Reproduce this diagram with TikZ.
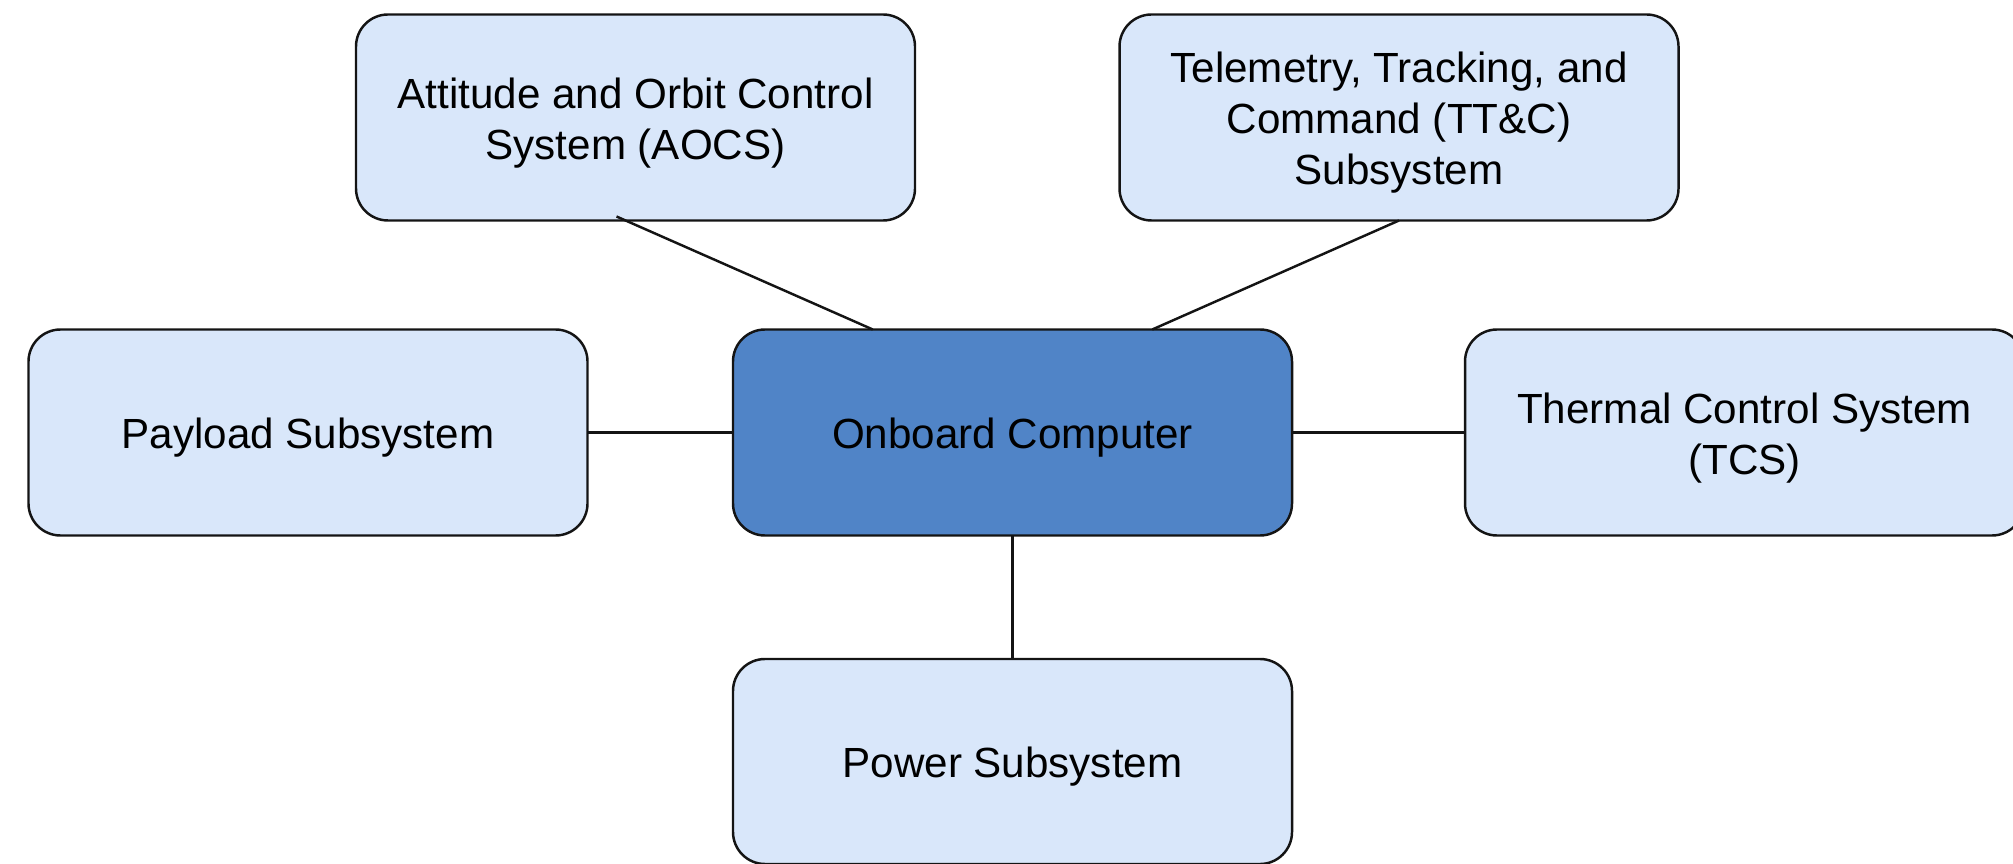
\documentclass[tikz,border=0pt]{standalone}
\usepackage{fontspec}
\setmainfont{Liberation Sans}
\usetikzlibrary{calc}

\definecolor{subfill}{RGB}{217,231,250}
\definecolor{corefill}{RGB}{80,132,199}
\definecolor{edgeline}{RGB}{20,20,20}

% a tall strut on the first line sets the text slightly below centre
\newcommand{\firstline}{\rule{0pt}{11.7pt}}

\tikzset{
  block/.style={draw=edgeline, line width=0.7pt, rounded corners=0.32cm,
    fill=subfill, minimum width=5.59cm, minimum height=2.06cm,
    align=center, inner sep=0pt, outer sep=0pt,
    font=\fontsize{12pt}{14.6pt}\selectfont},
  coreblock/.style={block, fill=corefill},
  link/.style={draw=edgeline, line width=0.7pt}
}

\begin{document}
\begin{tikzpicture}
  \useasboundingbox (0,0) rectangle (20.13,-8.64);

  % subsystems around the onboard computer
  \node[block] (aocs) at (6.355,-1.175)
    {\firstline Attitude and Orbit Control\\System (AOCS)};
  \node[block] (ttc) at (13.99,-1.175)
    {\firstline Telemetry, Tracking, and\\Command (TT\&C)\\Subsystem};
  \node[block] (payload) at (3.08,-4.325) {\firstline Payload Subsystem};
  \node[coreblock] (obc) at (10.125,-4.325) {\firstline Onboard Computer};
  \node[block] (tcs) at (17.445,-4.325)
    {\firstline Thermal Control System\\(TCS)};
  \node[block, minimum height=2.05cm] (power) at (10.125,-7.615)
    {\firstline Power Subsystem};

  % attachment points on the onboard computer's top edge
  \coordinate (aocsTap) at ($(aocs.south)+(-0.19,0.04)$);
  \coordinate (obcLeftTop) at ($(obc.north west)!0.25!(obc.north east)$);
  \coordinate (obcRightTop) at ($(obc.north west)!0.75!(obc.north east)$);

  % connectors
  \draw[link] (aocsTap) -- (obcLeftTop);
  \draw[link] (ttc.south) -- (obcRightTop);
  \draw[link] (payload.east) -- (obc.west);
  \draw[link] (obc.east) -- (tcs.west);
  \draw[link] (obc.south) -- (power.north);
\end{tikzpicture}
\end{document}
